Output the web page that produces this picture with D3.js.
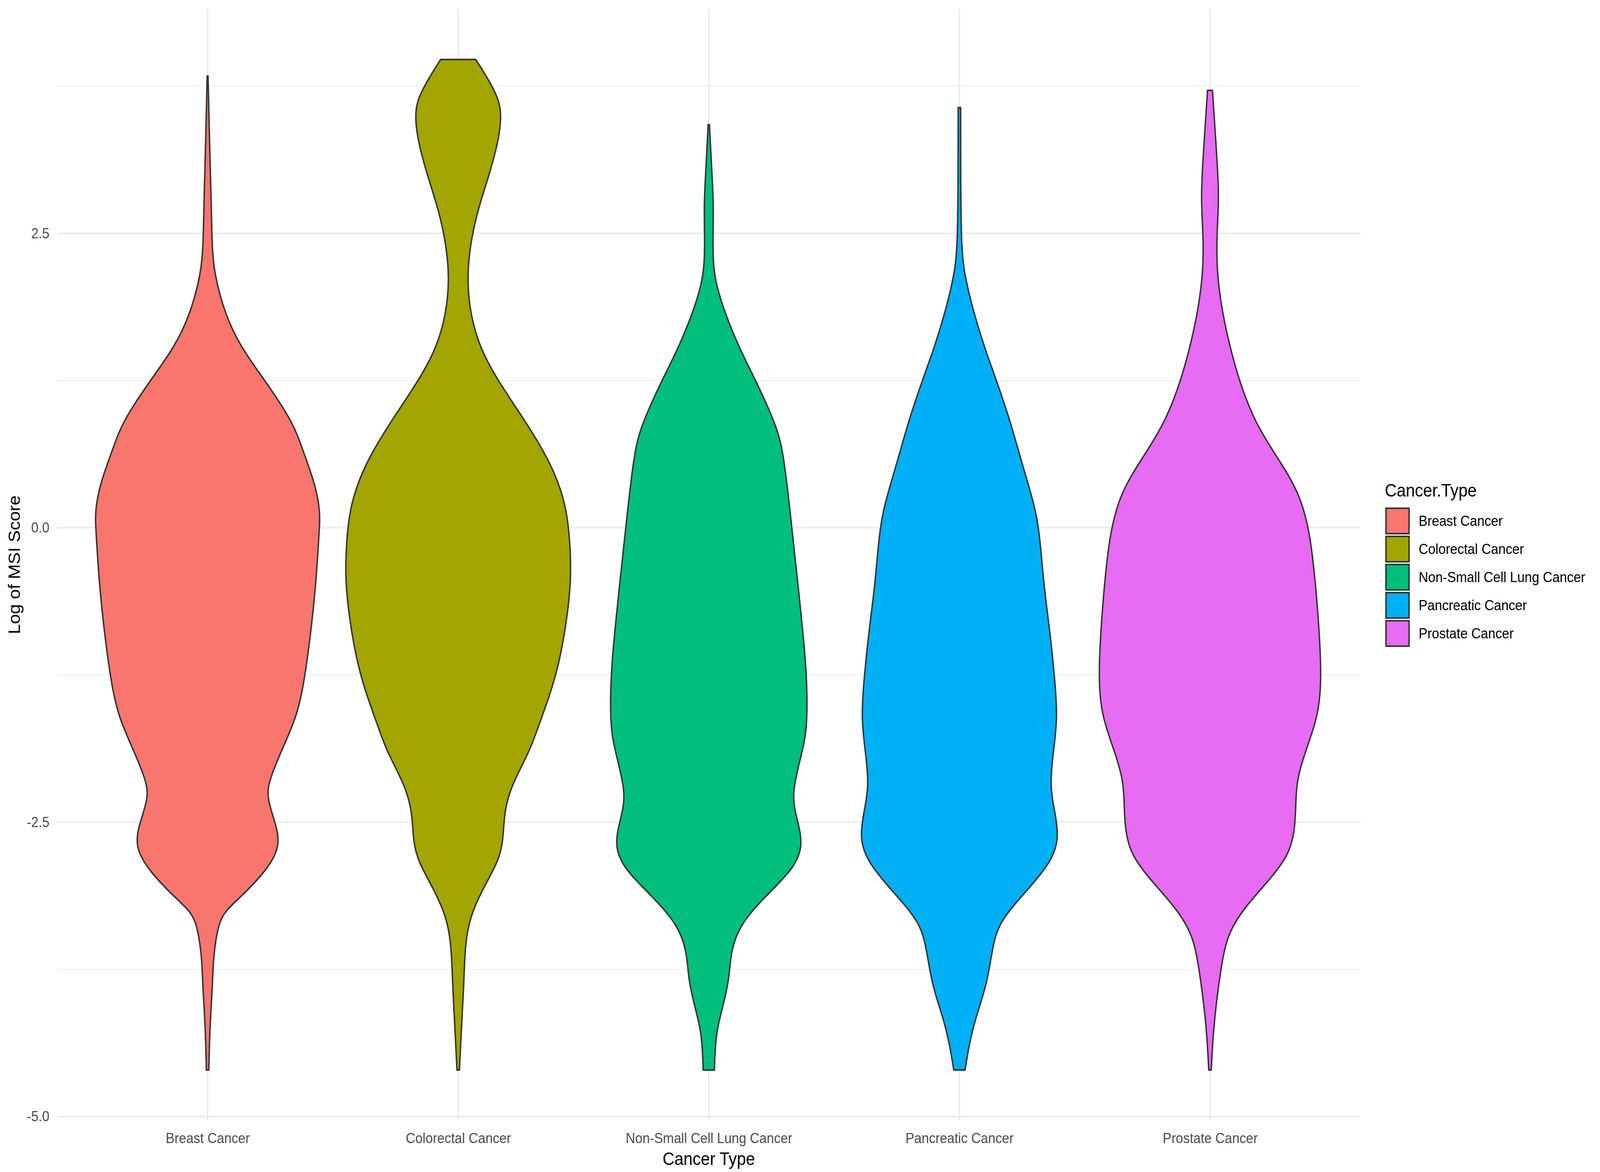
<!DOCTYPE html>
<html>
<head>
<meta charset="utf-8">
<script src="https://cdn.jsdelivr.net/npm/d3@7"></script>
<style>
  html, body { margin: 0; padding: 0; background: #fff; overflow: hidden; }
  #chart svg { display: block; width: 100vw; height: 100vh; }
  text { font-family: "Liberation Sans", Arial, Helvetica, sans-serif; }
</style>
</head>
<body>
<div id="chart"></div>
<script>
// categories and fill colours (ggplot default hue palette)
const categories = ["Breast Cancer", "Colorectal Cancer", "Non-Small Cell Lung Cancer", "Pancreatic Cancer", "Prostate Cancer"];
const fills = ["#F8766D", "#A3A500", "#00BF7D", "#00B0F6", "#E76BF3"];
const yTicks = [-5, -2.5, 0, 2.5];

// violin outlines: [log MSI score, relative density]
const breastDensity = [
  [3.836, 0.004], [3.277, 0.017], [2.753, 0.033], [2.404, 0.039], [2.171, 0.056],
  [1.822, 0.15], [1.531, 0.294], [1.24, 0.517], [0.891, 0.761], [0.658, 0.844],
  [0.367, 0.956], [0.134, 1.0], [-0.041, 0.989], [-0.39, 0.967], [-0.797, 0.928],
  [-1.321, 0.856], [-1.612, 0.789], [-1.903, 0.65], [-2.136, 0.55], [-2.282, 0.522],
  [-2.485, 0.594], [-2.689, 0.65], [-2.893, 0.539], [-3.126, 0.306], [-3.242, 0.167],
  [-3.359, 0.094], [-3.65, 0.05], [-3.882, 0.044], [-4.115, 0.028], [-4.348, 0.017],
  [-4.605, 0.011]
];
const colorectalDensity = [
  [3.976, 0.156], [3.801, 0.272], [3.626, 0.367], [3.481, 0.383], [3.277, 0.356],
  [2.986, 0.272], [2.695, 0.172], [2.404, 0.106], [2.113, 0.078], [1.822, 0.106],
  [1.531, 0.189], [1.24, 0.356], [0.891, 0.606], [0.541, 0.828], [0.192, 0.961],
  [-0.157, 0.994], [-0.419, 1.0], [-0.681, 0.978], [-1.088, 0.911], [-1.38, 0.828],
  [-1.671, 0.717], [-1.903, 0.633], [-2.194, 0.467], [-2.427, 0.406], [-2.66, 0.4],
  [-2.835, 0.356], [-3.068, 0.217], [-3.3, 0.106], [-3.533, 0.061], [-3.882, 0.05],
  [-4.173, 0.033], [-4.605, 0.011]
];
const lungDensity = [
  [3.423, 0.006], [3.102, 0.022], [2.753, 0.044], [2.462, 0.036], [2.229, 0.039],
  [2.055, 0.067], [1.822, 0.144], [1.531, 0.267], [1.24, 0.422], [0.891, 0.589],
  [0.658, 0.661], [0.076, 0.728], [-0.506, 0.794], [-1.088, 0.856], [-1.38, 0.872],
  [-1.729, 0.872], [-1.962, 0.811], [-2.253, 0.739], [-2.427, 0.767], [-2.689, 0.844],
  [-2.893, 0.756], [-3.126, 0.506], [-3.359, 0.283], [-3.591, 0.194], [-3.824, 0.183],
  [-4.057, 0.128], [-4.29, 0.061], [-4.605, 0.05]
];
const pancreaticDensity = [
  [3.568, 0.011], [2.986, 0.011], [2.404, 0.017], [2.171, 0.039], [1.822, 0.128],
  [1.531, 0.222], [1.24, 0.333], [0.891, 0.456], [0.541, 0.556], [0.192, 0.667],
  [-0.041, 0.711], [-0.506, 0.75], [-0.856, 0.8], [-1.263, 0.844], [-1.612, 0.872],
  [-1.903, 0.833], [-2.194, 0.8], [-2.427, 0.85], [-2.631, 0.883], [-2.835, 0.822],
  [-3.126, 0.556], [-3.359, 0.344], [-3.591, 0.289], [-3.882, 0.244], [-4.173, 0.139],
  [-4.406, 0.083], [-4.605, 0.05]
];
const prostateDensity = [
  [3.714, 0.022], [3.393, 0.044], [2.986, 0.072], [2.753, 0.078], [2.404, 0.056],
  [2.113, 0.067], [1.822, 0.111], [1.531, 0.178], [1.24, 0.261], [0.891, 0.4],
  [0.6, 0.594], [0.308, 0.789], [-0.041, 0.889], [-0.506, 0.939], [-0.914, 0.972],
  [-1.321, 0.989], [-1.612, 0.956], [-1.903, 0.844], [-2.136, 0.772], [-2.311, 0.761],
  [-2.544, 0.756], [-2.776, 0.706], [-3.009, 0.511], [-3.242, 0.289], [-3.475, 0.144],
  [-3.766, 0.094], [-3.999, 0.061], [-4.29, 0.028], [-4.605, 0.011]
];
const densities = [breastDensity, colorectalDensity, lungDensity, pancreaticDensity, prostateDensity];

const fullWidth = 4500, fullHeight = 3000;
const panel = { left: 161, right: 3826, top: 23, bottom: 2868 };

// drawn in a 4500x3000 space and stretched to fill the window
const svg = d3.select("#chart").append("svg")
  .attr("viewBox", `0 0 ${fullWidth} ${fullHeight}`)
  .attr("preserveAspectRatio", "none");

svg.append("rect")
  .attr("width", fullWidth).attr("height", fullHeight)
  .attr("fill", "#fff");

const x = d3.scalePoint().domain(categories).range([panel.left, panel.right]).padding(0.6);
const y = d3.scaleLinear().domain([-5.033, 4.405]).range([panel.bottom, panel.top]);
const color = d3.scaleOrdinal().domain(categories).range(fills);
const halfWidth = d3.scaleLinear().domain([0, 1]).range([0, 0.45 * x.step()]);

// grid
const minorTicks = d3.pairs(yTicks.concat([5])).map(p => (p[0] + p[1]) / 2);
const grid = svg.append("g");
grid.selectAll(".minor").data(minorTicks).enter().append("line")
  .attr("x1", panel.left).attr("x2", panel.right)
  .attr("y1", d => y(d)).attr("y2", d => y(d))
  .attr("stroke", "#EBEBEB").attr("stroke-width", 2);
grid.selectAll(".major").data(yTicks).enter().append("line")
  .attr("x1", panel.left).attr("x2", panel.right)
  .attr("y1", d => y(d)).attr("y2", d => y(d))
  .attr("stroke", "#EBEBEB").attr("stroke-width", 4);
grid.selectAll(".vmajor").data(categories).enter().append("line")
  .attr("x1", d => x(d)).attr("x2", d => x(d))
  .attr("y1", panel.top).attr("y2", panel.bottom)
  .attr("stroke", "#EBEBEB").attr("stroke-width", 4);

// violins
categories.forEach((cat, i) => {
  const cx = x(cat);
  const area = d3.area()
    .y(d => y(d[0]))
    .x0(d => cx - halfWidth(d[1]))
    .x1(d => cx + halfWidth(d[1]))
    .curve(d3.curveBasis);
  svg.append("path")
    .datum(densities[i])
    .attr("d", area)
    .attr("fill", color(cat))
    .attr("stroke", "#333333")
    .attr("stroke-width", 4)
    .attr("stroke-linejoin", "round");
});

// axes
const yAxis = svg.append("g")
  .attr("transform", `translate(${panel.left},0)`)
  .call(d3.axisLeft(y).tickValues(yTicks).tickSize(0).tickPadding(22).tickFormat(d => d.toFixed(1)));
const xAxis = svg.append("g")
  .attr("transform", `translate(0,${panel.bottom})`)
  .call(d3.axisBottom(x).tickSize(0).tickPadding(32));
[yAxis, xAxis].forEach(a => {
  a.select(".domain").remove();
  a.selectAll("text")
    .attr("font-size", 37)
    .attr("fill", "#4D4D4D")
    .style("font-family", "'Liberation Sans', Arial, Helvetica, sans-serif");
});

svg.append("text")
  .attr("x", (panel.left + panel.right) / 2)
  .attr("y", 2982)
  .attr("text-anchor", "middle")
  .attr("font-size", 46)
  .text("Cancer Type");

svg.append("text")
  .attr("transform", `translate(56,${(panel.top + panel.bottom) / 2}) rotate(-90)`)
  .attr("text-anchor", "middle")
  .attr("font-size", 46)
  .text("Log of MSI Score");

// legend
const legend = svg.append("g").attr("transform", "translate(3895,1271)");
legend.append("text")
  .attr("x", 0).attr("y", 0)
  .attr("font-size", 46)
  .text("Cancer.Type");
const keys = legend.selectAll(".key").data(categories).enter().append("g")
  .attr("transform", (d, i) => `translate(3,${30 + i * 72})`);
keys.append("rect")
  .attr("width", 65).attr("height", 65)
  .attr("fill", d => color(d))
  .attr("stroke", "#333333")
  .attr("stroke-width", 4);
keys.append("text")
  .attr("x", 92).attr("y", 32.5 + 13)
  .attr("font-size", 37)
  .text(d => d);
</script>
</body>
</html>
